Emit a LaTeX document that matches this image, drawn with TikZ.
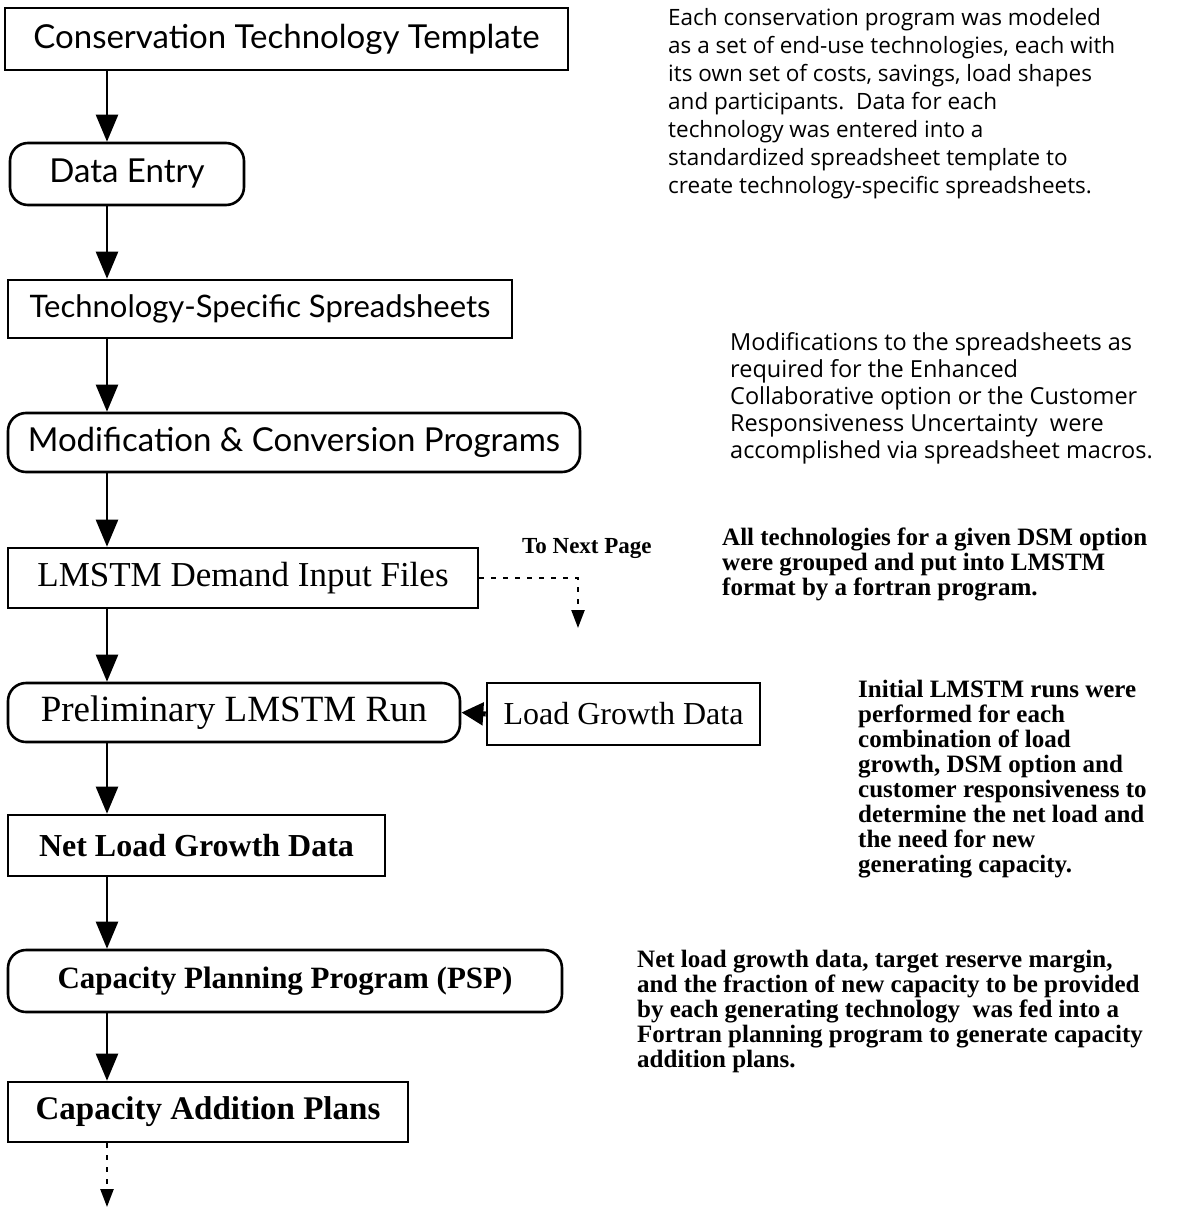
\documentclass[tikz,border=0pt]{standalone}
\usepackage{fontspec}
\setmainfont{Liberation Serif}
\newfontfamily\humsans{Lato}
\newfontfamily\notesans{Open Sans}
\usetikzlibrary{arrows.meta}
\definecolor{ink}{HTML}{000000}
\tikzset{
  box/.style={draw=ink, line width=2.6pt, inner sep=0pt},
  rbox/.style={box, rounded corners=18pt},
  flow/.style={draw=ink, line width=2.4pt, -{Triangle[width=22pt,length=27pt]}},
  feed/.style={draw=ink, line width=5pt, -{Triangle[width=22pt,length=22pt]}},
  cont/.style={draw=ink, line width=2.4pt, dash pattern=on 5pt off 7pt, -{Triangle[width=13pt,length=18pt]}},
  labs/.style={font=\humsans\fontsize{33}{38}\selectfont},
  labr/.style={font=\fontsize{35}{40}\selectfont},
  labb/.style={font=\bfseries\fontsize{32}{37}\selectfont},
  notes/.style={anchor=north west, align=left, inner sep=0pt, font=\notesans\fontsize{22.5}{28}\selectfont},
  noter/.style={anchor=north west, align=left, inner sep=0pt, font=\bfseries\fontsize{25}{25}\selectfont},
}
\begin{document}
\begin{tikzpicture}[x=1pt, y=-1pt]
  \useasboundingbox (0,0) rectangle (1190,1210);
  \coordinate (col) at (107,0);

  % main chain
  \node[box, labs, minimum width=563pt, minimum height=62pt] (tmpl) at (286.5,39) {Conservation Technology Template};
  \node[rbox, labs, minimum width=234pt, minimum height=62pt] (entry) at (127,174) {Data Entry};
  \node[box, labs, font=\humsans\fontsize{31}{36}\selectfont, minimum width=504pt, minimum height=58pt] (sheets) at (260,309) {Technology-Specific Spreadsheets};
  \node[rbox, labs, minimum width=572pt, minimum height=59pt] (convert) at (294,442.5) {Modification \& Conversion Programs};
  \node[box, labr, minimum width=470pt, minimum height=60pt] (input) at (243,578) {LMSTM Demand Input Files};
  \node[rbox, labr, font=\fontsize{37}{42}\selectfont, minimum width=452pt, minimum height=59pt] (prelim) at (234,712.5) {Preliminary LMSTM Run};
  \node[box, labr, font=\fontsize{32}{37}\selectfont, minimum width=273pt, minimum height=62pt] (growth) at (623.5,714) {Load Growth Data};
  \node[box, labb, minimum width=377pt, minimum height=61pt] (netload) at (196.5,845.5) {Net Load Growth Data};
  \node[rbox, labb, font=\bfseries\fontsize{31}{36}\selectfont, minimum width=554pt, minimum height=62pt] (psp) at (285,981) {Capacity Planning Program (PSP)};
  \node[box, labb, font=\bfseries\fontsize{33}{38}\selectfont, minimum width=400pt, minimum height=60pt] (plans) at (208,1112) {Capacity Addition Plans};

  \draw[flow] (tmpl.south -| col) -- (entry.north -| col);
  \draw[flow] (entry.south -| col) -- (sheets.north -| col);
  \draw[flow] (sheets.south -| col) -- (convert.north -| col);
  \draw[flow] (convert.south -| col) -- (input.north -| col);
  \draw[flow] (input.south -| col) -- (prelim.north -| col);
  \draw[flow] (prelim.south -| col) -- (netload.north -| col);
  \draw[flow] (netload.south -| col) -- (psp.north -| col);
  \draw[flow] (psp.south -| col) -- (plans.north -| col);
  \draw[feed] (growth.west) -- (prelim.east);

  % off-page connectors
  \coordinate (nextpg) at (578,628);
  \coordinate (below) at (107,1207);
  \draw[cont] (input.east) -- (input.east -| nextpg) -- (nextpg);
  \draw[cont] (plans.south -| col) -- (below);
  \node[anchor=west, inner sep=0pt, font=\bfseries\fontsize{23}{25}\selectfont] (nextlab) at (522,549) {To Next Page};

  % side notes
  \node[notes] (n1) at (668,8) {Each conservation program was modeled\\
    as a set of end-use technologies, each with\\
    its own set of costs, savings, load shapes\\
    and participants.\ \ Data for each\\
    technology was entered into a\\
    standardized spreadsheet template to\\
    create technology-specific spreadsheets.};
  \node[notes, font=\notesans\fontsize{23.5}{27}\selectfont] (n2) at (730,332) {Modifications to the spreadsheets as\\
    required for the Enhanced\\
    Collaborative option or the Customer\\
    Responsiveness Uncertainty\ \ were\\
    accomplished via spreadsheet macros.};
  \node[noter] (n3) at (722,528) {All technologies for a given DSM option\\
    were grouped and put into LMSTM\\
    format by a fortran program.};
  \node[noter] (n4) at (858,680) {Initial LMSTM runs were\\
    performed for each\\
    combination of load\\
    growth, DSM option and\\
    customer responsiveness to\\
    determine the net load and\\
    the need for new\\
    generating capacity.};
  \node[noter] (n5) at (637,950) {Net load growth data, target reserve margin,\\
    and the fraction of new capacity to be provided\\
    by each generating technology\ \ was fed into a\\
    Fortran planning program to generate capacity\\
    addition plans.};
\end{tikzpicture}
\end{document}
